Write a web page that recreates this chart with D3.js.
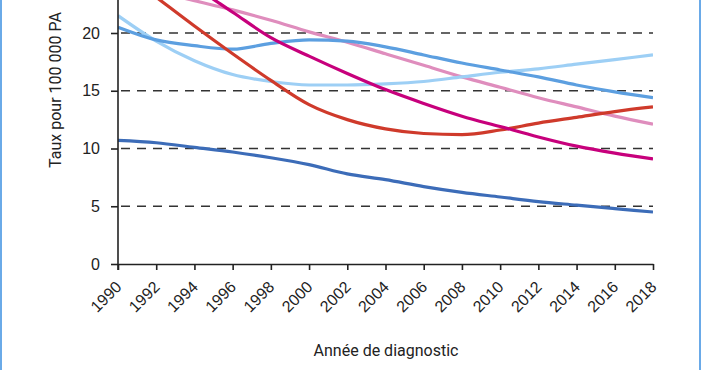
<!DOCTYPE html>
<html>
<head>
<meta charset="utf-8">
<script src="https://cdn.jsdelivr.net/npm/d3@7"></script>
<style>
  body { margin: 0; background: #fff; }
  svg { display: block; font-family: Roboto, "DejaVu Sans", sans-serif; }
</style>
</head>
<body>
<script>
// Years read every 2 years
const years = [1990, 1992, 1994, 1996, 1998, 2000, 2002, 2004, 2006, 2008, 2010, 2012, 2014, 2016, 2018];

// Series values (taux pour 100 000 PA), chart is cropped above ~23
const darkBlue   = [10.7, 10.5, 10.1, 9.7, 9.2, 8.6, 7.8, 7.3, 6.7, 6.2, 5.8, 5.4, 5.1, 4.8, 4.5];
const midBlue    = [20.5, 19.4, 18.9, 18.6, 19.1, 19.4, 19.3, 18.8, 18.1, 17.4, 16.8, 16.2, 15.5, 14.9, 14.4];
const lightBlue  = [21.5, 19.3, 17.6, 16.4, 15.8, 15.5, 15.5, 15.6, 15.8, 16.2, 16.6, 16.9, 17.3, 17.7, 18.1];
const red        = [25.6, 23.1, 20.6, 18.2, 15.9, 13.8, 12.5, 11.7, 11.3, 11.2, 11.6, 12.2, 12.7, 13.2, 13.6];
const magenta    = [28.0, 26.0, 24.0, 21.8, 19.6, 18.0, 16.5, 15.1, 13.9, 12.8, 11.9, 11.0, 10.2, 9.6, 9.1];
const pink       = [24.5, 23.6, 22.8, 22.0, 21.1, 20.1, 19.2, 18.2, 17.2, 16.2, 15.3, 14.4, 13.6, 12.8, 12.1];

const yTicks = [0, 5, 10, 15, 20];
const xTicks = [1990, 1992, 1994, 1996, 1998, 2000, 2002, 2004, 2006, 2008, 2010, 2012, 2014, 2016, 2018];

const series = [
  { values: pink,      color: "#df8dbd" },
  { values: lightBlue, color: "#9dcff5" },
  { values: midBlue,   color: "#5c9fe0" },
  { values: red,       color: "#cf3a2b" },
  { values: magenta,   color: "#c7007c" },
  { values: darkBlue,  color: "#3c6cb8" }
];

const width = 702, height = 370;

const svg = d3.select("body").append("svg")
  .attr("width", width)
  .attr("height", height);

// frame lines left and right
svg.append("rect").attr("x", 0).attr("y", 0).attr("width", 2).attr("height", height).attr("fill", "#6aaae8");
svg.append("rect").attr("x", 699).attr("y", 0).attr("width", 2).attr("height", height).attr("fill", "#6aaae8");

const x = d3.scaleLinear().domain([1990, 2018]).range([118, 653]);
const y = d3.scaleLinear().domain([0, 20]).range([264, 33]);

// dashed grid
svg.append("g")
  .selectAll("line")
  .data(yTicks.filter(d => d > 0))
  .join("line")
  .attr("x1", x(1990) + 3)
  .attr("x2", x(2018))
  .attr("y1", d => y(d))
  .attr("y2", d => y(d))
  .attr("stroke", "#333")
  .attr("stroke-width", 1.6)
  .attr("stroke-dasharray", "9,7");

// clip lines to the plot area
svg.append("defs").append("clipPath").attr("id", "plot")
  .append("rect")
  .attr("x", x(1990)).attr("y", 0)
  .attr("width", x(2018) - x(1990)).attr("height", y(0));

const line = d3.line()
  .x((d, i) => x(years[i]))
  .y(d => y(d))
  .curve(d3.curveMonotoneX);

svg.append("g")
  .attr("clip-path", "url(#plot)")
  .selectAll("path")
  .data(series)
  .join("path")
  .attr("fill", "none")
  .attr("stroke", d => d.color)
  .attr("stroke-width", 3.2)
  .attr("d", d => line(d.values));

// y axis
const yAxis = svg.append("g")
  .attr("transform", `translate(${x(1990)},0)`)
  .call(d3.axisLeft(y).tickValues(yTicks).tickSize(7).tickPadding(11).tickSizeOuter(0));
yAxis.select(".domain").remove();
yAxis.append("line")
  .attr("x1", 0).attr("x2", 0).attr("y1", 0).attr("y2", y(0) + 6)
  .attr("stroke", "#222").attr("stroke-width", 1.6);
yAxis.selectAll(".tick line").attr("stroke", "#222").attr("stroke-width", 1.6);
yAxis.selectAll(".tick text").attr("font-size", 16).attr("fill", "#222");

// x axis
const xAxis = svg.append("g")
  .attr("transform", `translate(0,${y(0)})`)
  .call(d3.axisBottom(x).tickValues(xTicks).tickFormat(d3.format("d")).tickSize(6).tickSizeOuter(0));
xAxis.select(".domain").attr("stroke", "#222").attr("stroke-width", 1.6);
xAxis.selectAll(".tick line").attr("stroke", "#222").attr("stroke-width", 1.6);
xAxis.selectAll(".tick text")
  .attr("font-size", 16)
  .attr("fill", "#222")
  .attr("text-anchor", "end")
  .attr("dy", 0)
  .attr("y", 0)
  .attr("transform", "translate(4,24) rotate(-45)");

// axis titles
svg.append("text")
  .attr("transform", "translate(61,90) rotate(-90)")
  .attr("text-anchor", "middle")
  .attr("font-size", 16)
  .attr("fill", "#222")
  .text("Taux pour 100 000 PA");

svg.append("text")
  .attr("x", 386)
  .attr("y", 356)
  .attr("text-anchor", "middle")
  .attr("font-size", 16)
  .attr("fill", "#222")
  .text("Année de diagnostic");
</script>
</body>
</html>
